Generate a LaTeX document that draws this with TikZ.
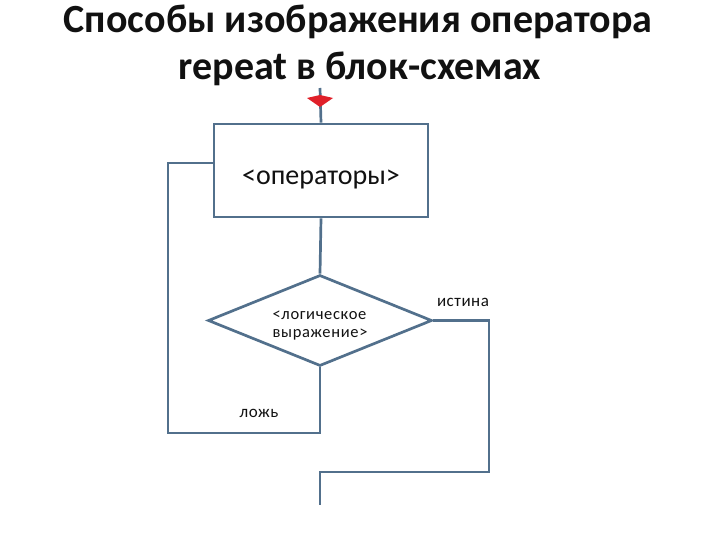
\documentclass[tikz,border=0pt]{standalone}
\usepackage{fontspec}
\setmainfont{Carlito}
\setsansfont{Carlito}
\usetikzlibrary{arrows.meta,calc,positioning,shapes.geometric}
\definecolor{rpink}{HTML}{111111}
\definecolor{rpline}{HTML}{52708C}
\definecolor{rpmark}{HTML}{E0202A}
\tikzset{
  rptitle/.style={
    anchor=base,
    font=\fontsize{40}{44}\selectfont\bfseries,
    text=rpink,
    inner sep=0pt
  },
  rpblock/.style={
    draw=rpline,
    line width=2.7pt,
    fill=white,
    inner sep=0pt,
    text=rpink
  },
  rpstep/.style={
    rpblock,
    rectangle,
    minimum width=214pt,
    minimum height=93pt,
    font=\fontsize{28}{32}\selectfont
  },
  rpcheck/.style={
    rpblock,
    diamond,
    aspect=2.46,
    minimum width=224pt,
    minimum height=91pt,
    font=\fontsize{16.5}{20}\selectfont\addfontfeatures{LetterSpace=4}
  },
  rpedge/.style={
    draw=rpline,
    line width=2.7pt
  },
  rplabel/.style={
    font=\fontsize{17}{20}\selectfont\addfontfeatures{LetterSpace=3},
    text=rpink,
    inner sep=0pt
  }
}

\begin{document}
\begin{tikzpicture}[x=1pt,y=-1pt]
  \useasboundingbox (0,0) rectangle (720,540);

  \node[rptitle] (title1) at (358,33) {Способы изображения оператора};
  \node[rptitle] (title2) at (360,80) {repeat в блок-схемах};

  \node[rpstep] (ops) at (321,170.5) {\raisebox{-9pt}[\height][\depth]{<операторы>}};
  \node[rpcheck] (cond) at (320,320.5) {\raisebox{-4pt}[\height][\depth]{\begin{tabular}{@{}l@{}}<логическое\\[-2pt]выражение>\end{tabular}}};

  \coordinate (entry) at (320,88);
  \coordinate (falsebottom) at (320,433);
  \coordinate (backbottom) at (168,433);
  \coordinate (backtop) at (168,163);
  \coordinate (trueside) at (489,472);
  \coordinate (join) at (320,472);
  \coordinate (exit) at (320,505);

  % entry with its mark
  \draw[rpedge] (entry) -- (ops.north);
  \fill[rpmark] ($(entry)+(-13,10)$) -- ($(entry)+(0,7)$) -- ($(entry)+(13,10)$)
    -- ($(entry)+(0,19)$) -- cycle;

  \draw[rpedge] (ops.south) -- (cond.north);

  % false: back to the statements
  \draw[rpedge] (cond.south) -- (falsebottom) -- (backbottom) -- (backtop)
    -- ($(ops.west)+(0,-7.5)$);
  \node[rplabel] (nolabel) at (259,413) {ложь};

  % true: leave the loop
  \draw[rpedge] (cond.east) -| (trueside) -- (join) -- (exit);
  \node[rplabel] (yeslabel) at (463,302) {истина};
\end{tikzpicture}
\end{document}
